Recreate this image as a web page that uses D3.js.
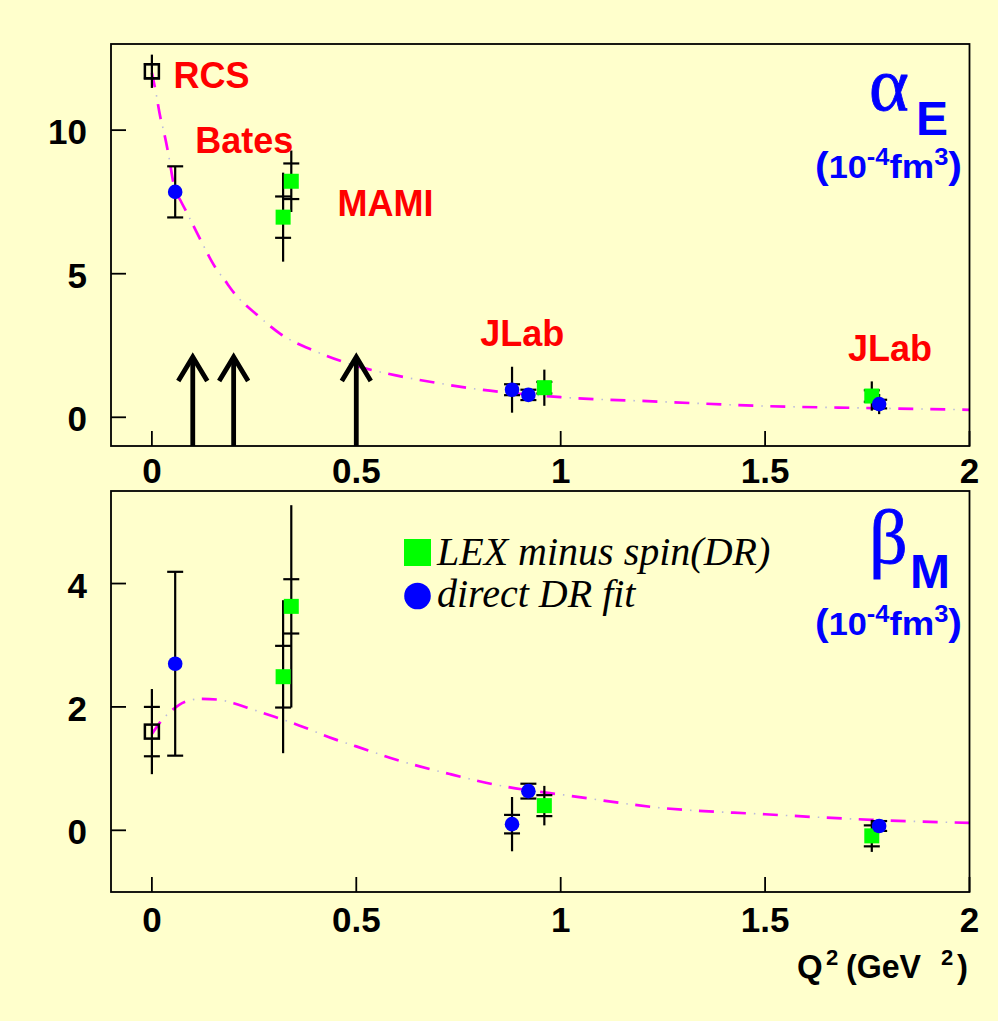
<!DOCTYPE html>
<html>
<head>
<meta charset="utf-8">
<script src="https://cdn.jsdelivr.net/npm/d3@7"></script>
<style>
  html, body { margin: 0; padding: 0; background: #ffffcc; }
  svg { display: block; }
</style>
</head>
<body>
<svg id="chart" width="998" height="1021"></svg>
<script>
// ---- axis ticks ----
const q2Ticks = [0, 0.5, 1, 1.5, 2];
const q2TickLabels = ["0", "0.5", "1", "1.5", "2"];
const alphaTicks = [0, 5, 10];
const alphaTickLabels = ["0", "5", "10"];
const betaTicks = [0, 2, 4];
const betaTickLabels = ["0", "2", "4"];

// ---- alpha_E (10^-4 fm^3) ----
// real Compton scattering point
const alphaRcsQ2 = [0];
const alphaRcsVal = [12.05];
const alphaRcsStat = [0.25];
const alphaRcsTot = [0.58];
// LEX minus spin(DR)
const alphaLexQ2 = [0.321, 0.341, 0.96, 1.761];
const alphaLexVal = [6.97, 8.22, 1.03, 0.74];
const alphaLexStat = [0.72, 0.62, 0.2, 0.2];
const alphaLexTot = [1.55, 1.07, 0.63, 0.51];
// direct DR fit
const alphaDrQ2 = [0.057, 0.881, 0.921, 1.779];
const alphaDrVal = [7.85, 0.96, 0.78, 0.46];
const alphaDrStat = [0.89, 0.19, 0.18, 0.15];
const alphaDrTot = [0.89, 0.80, 0.18, 0.35];
// dispersion-relation curve
const alphaCurveQ2 = [0, 0.01, 0.02, 0.03, 0.04, 0.056, 0.07, 0.09, 0.12, 0.156, 0.177, 0.2, 0.258, 0.315, 0.4, 0.5, 0.6, 0.7, 0.8, 0.9, 1.0, 1.25, 1.5, 1.76, 2.0];
const alphaCurveVal = [12.0, 11.3, 10.5, 9.9, 9.2, 7.95, 7.55, 7.0, 6.15, 5.2, 4.8, 4.35, 3.56, 2.9, 2.3, 1.79, 1.45, 1.19, 0.97, 0.82, 0.70, 0.54, 0.39, 0.32, 0.26];
// kinematic points marked by arrows
const arrowQ2 = [0.1, 0.2, 0.5];
const arrowTip = [2.1, 2.1, 2.1];
// experiment labels
const alphaLabels = ["RCS", "Bates", "MAMI", "JLab", "JLab"];

// ---- beta_M (10^-4 fm^3) ----
const betaRcsQ2 = [0];
const betaRcsVal = [1.60];
const betaRcsStat = [0.40];
const betaRcsTot = [0.69];
const betaLexQ2 = [0.321, 0.341, 0.96, 1.761];
const betaLexVal = [2.49, 3.63, 0.40, -0.09];
const betaLexStat = [0.50, 0.44, 0.17, 0.17];
const betaLexTot = [1.24, 1.64, 0.32, 0.26];
const betaDrQ2 = [0.057, 0.881, 0.921, 1.779];
const betaDrVal = [2.70, 0.10, 0.635, 0.07];
const betaDrStat = [1.49, 0.15, 0.12, 0.08];
const betaDrTot = [1.49, 0.44, 0.12, 0.08];
const betaCurveQ2 = [0, 0.02, 0.05, 0.08, 0.12, 0.16, 0.2, 0.25, 0.3, 0.36, 0.45, 0.5, 0.6, 0.73, 0.84, 0.92, 1.0, 1.25, 1.5, 1.76, 2.0];
const betaCurveVal = [1.56, 1.75, 1.95, 2.08, 2.13, 2.12, 2.06, 1.95, 1.84, 1.70, 1.47, 1.36, 1.14, 0.91, 0.74, 0.65, 0.58, 0.36, 0.26, 0.17, 0.12];

const legendLabels = ["LEX minus spin(DR)", "direct DR fit"];

// ---- drawing ----
const svg = d3.select("#chart");
const SANS = "'Liberation Sans', Arial, Helvetica, sans-serif";
const SERIF = "'Liberation Serif', 'Times New Roman', serif";
const GREEN = "#00ff00", BLUE = "#0000ff", MAGENTA = "#ff00ff", RED = "#ff0000";

svg.append("rect").attr("width", 998).attr("height", 1021).attr("fill", "#ffffcc");

const frameLeft = 111, frameRight = 969.5;
const x = d3.scaleLinear().domain([-0.1, 2]).range([frameLeft, frameRight]);

function zip(q, v, s, t) { return q.map((d, i) => ({ q: d, v: v[i], s: s[i], t: t[i] })); }

function drawPanel(cfg) {
  const y = d3.scaleLinear().domain(cfg.yDomain).range([cfg.bottom, cfg.top]);
  const g = svg.append("g");

  // theory curve: magenta dashes with faint dots in the gaps
  const line = d3.line().x(d => x(d[0])).y(d => y(d[1])).curve(d3.curveMonotoneX);
  const pts = cfg.curveQ2.map((q, i) => [q, cfg.curveVal[i]]);
  g.append("path").attr("d", line(pts)).attr("fill", "none")
    .attr("stroke", "#b9b9dd").attr("stroke-width", 1.6)
    .attr("stroke-dasharray", "1.5,30.5").attr("stroke-dashoffset", 9);
  g.append("path").attr("d", line(pts)).attr("fill", "none")
    .attr("stroke", MAGENTA).attr("stroke-width", 2.7)
    .attr("stroke-dasharray", "15,17");

  // error bars: line spans total error, crossbars mark statistical error
  const bars = [].concat(cfg.rcs, cfg.lex, cfg.dr);
  bars.forEach(d => {
    const cx = x(d.q);
    g.append("line").attr("x1", cx).attr("x2", cx)
      .attr("y1", y(d.v - d.t)).attr("y2", y(d.v + d.t))
      .attr("stroke", "#000").attr("stroke-width", 2.2);
    [d.v - d.s, d.v + d.s].forEach(e => {
      g.append("line").attr("x1", cx - 8).attr("x2", cx + 8)
        .attr("y1", y(e)).attr("y2", y(e))
        .attr("stroke", "#000").attr("stroke-width", 2.2);
    });
  });

  // markers
  cfg.rcs.forEach(d => {
    g.append("rect").attr("x", x(d.q) - 7).attr("y", y(d.v) - 7)
      .attr("width", 14).attr("height", 14)
      .attr("fill", "none").attr("stroke", "#000").attr("stroke-width", 2.5);
  });
  cfg.lex.forEach(d => {
    g.append("rect").attr("x", x(d.q) - 7.5).attr("y", y(d.v) - 7.5)
      .attr("width", 15).attr("height", 15).attr("fill", GREEN);
  });
  cfg.dr.forEach(d => {
    g.append("circle").attr("cx", x(d.q)).attr("cy", y(d.v)).attr("r", 7.3).attr("fill", BLUE);
  });

  // frame
  g.append("rect").attr("x", frameLeft).attr("y", cfg.top)
    .attr("width", frameRight - frameLeft).attr("height", cfg.bottom - cfg.top)
    .attr("fill", "none").attr("stroke", "#000").attr("stroke-width", 1.8);

  // ticks
  cfg.yTicks.forEach((t, i) => {
    g.append("line").attr("x1", frameLeft).attr("x2", frameLeft + 15)
      .attr("y1", y(t)).attr("y2", y(t)).attr("stroke", "#000").attr("stroke-width", 1.8);
    g.append("text").attr("x", 87).attr("y", y(t) + 14)
      .attr("text-anchor", "end").attr("font-family", SANS).attr("font-weight", "bold")
      .attr("font-size", 35).text(cfg.yTickLabels[i]);
  });
  q2Ticks.forEach((t, i) => {
    g.append("line").attr("x1", x(t)).attr("x2", x(t))
      .attr("y1", cfg.bottom).attr("y2", cfg.bottom - 15).attr("stroke", "#000").attr("stroke-width", 1.8);
    g.append("text").attr("x", x(t)).attr("y", cfg.xLabelBase)
      .attr("text-anchor", "middle").attr("font-family", SANS).attr("font-weight", "bold")
      .attr("font-size", 35).text(q2TickLabels[i]);
  });

  // quantity label, e.g. alpha_E (10^-4 fm^3)
  g.append("text").attr("x", 869).attr("y", cfg.greekBase)
    .attr("font-family", SERIF).attr("font-size", 76).attr("fill", BLUE)
    .attr("stroke", BLUE).attr("stroke-width", 0.8).text(cfg.greek);
  g.append("text").attr("x", cfg.subX).attr("y", cfg.greekBase + 25)
    .attr("font-family", SANS).attr("font-weight", "bold").attr("font-size", 48)
    .attr("fill", BLUE).text(cfg.sub);
  const u = g.append("text").attr("x", 815).attr("y", cfg.unitBase)
    .attr("font-family", SANS).attr("font-weight", "bold").attr("fill", BLUE)
    .attr("textLength", 147).attr("lengthAdjust", "spacingAndGlyphs");
  u.append("tspan").attr("font-size", 37).text("(");
  u.append("tspan").attr("font-size", 31).text("10");
  u.append("tspan").attr("font-size", 23).attr("dy", -13).text("-4");
  u.append("tspan").attr("font-size", 33).attr("dy", 13).text("fm");
  u.append("tspan").attr("font-size", 23).attr("dy", -13).text("3");
  u.append("tspan").attr("font-size", 37).attr("dy", 13).text(")");

  return { g, y };
}

// upper panel: alpha_E
const alphaPanel = drawPanel({
  top: 44, bottom: 446, yDomain: [-1, 13], xLabelBase: 483,
  yTicks: alphaTicks, yTickLabels: alphaTickLabels,
  curveQ2: alphaCurveQ2, curveVal: alphaCurveVal,
  rcs: zip(alphaRcsQ2, alphaRcsVal, alphaRcsStat, alphaRcsTot),
  lex: zip(alphaLexQ2, alphaLexVal, alphaLexStat, alphaLexTot),
  dr: zip(alphaDrQ2, alphaDrVal, alphaDrStat, alphaDrTot),
  greek: "\u03b1", sub: "E", subX: 916, greekBase: 110, unitBase: 178
});

// arrows at the kinematic points of the planned measurements
arrowQ2.forEach((q, i) => {
  const ax = x(q), tip = alphaPanel.y(arrowTip[i]);
  alphaPanel.g.append("line").attr("x1", ax).attr("x2", ax).attr("y1", 446).attr("y2", tip + 2)
    .attr("stroke", "#000").attr("stroke-width", 4.8);
  alphaPanel.g.append("path")
    .attr("d", `M${ax - 14.5},${tip + 24}L${ax},${tip}L${ax + 14.5},${tip + 24}`)
    .attr("fill", "none").attr("stroke", "#000").attr("stroke-width", 4.8)
    .attr("stroke-linejoin", "miter");
});

// experiment labels, anchored in data coordinates
const labelPos = [[0.053, 11.47], [0.106, 9.2], [0.454, 7.0], [0.803, 2.5], [1.703, 1.97]];
alphaLabels.forEach((t, i) => {
  alphaPanel.g.append("text").attr("x", x(labelPos[i][0])).attr("y", alphaPanel.y(labelPos[i][1]))
    .attr("font-family", SANS).attr("font-weight", "bold").attr("font-size", 36)
    .attr("fill", RED).text(t);
});

// lower panel: beta_M
const betaPanel = drawPanel({
  top: 491, bottom: 892, yDomain: [-1, 5.5], xLabelBase: 932,
  yTicks: betaTicks, yTickLabels: betaTickLabels,
  curveQ2: betaCurveQ2, curveVal: betaCurveVal,
  rcs: zip(betaRcsQ2, betaRcsVal, betaRcsStat, betaRcsTot),
  lex: zip(betaLexQ2, betaLexVal, betaLexStat, betaLexTot),
  dr: zip(betaDrQ2, betaDrVal, betaDrStat, betaDrTot),
  greek: "\u03b2", sub: "M", subX: 910, greekBase: 563, unitBase: 635
});

// legend
const lg = betaPanel.g.append("g");
lg.append("rect").attr("x", 404).attr("y", 539).attr("width", 27).attr("height", 27).attr("fill", GREEN);
lg.append("circle").attr("cx", 417.5).attr("cy", 596).attr("r", 13.3).attr("fill", BLUE);
legendLabels.forEach((t, i) => {
  lg.append("text").attr("x", 437).attr("y", i === 0 ? 564.5 : 607)
    .attr("font-family", SERIF).attr("font-style", "italic").attr("font-size", 40)
    .attr("fill", "#000").text(t);
});

// x-axis title Q^2 (GeV^2)
const xt = svg.append("g").attr("font-family", SANS).attr("font-weight", "bold").attr("fill", "#000");
xt.append("text").attr("x", 797).attr("y", 978).attr("font-size", 33).text("Q");
xt.append("text").attr("x", 826).attr("y", 965).attr("font-size", 22).text("2");
xt.append("text").attr("x", 846).attr("y", 978).attr("font-size", 33)
  .attr("textLength", 75).attr("lengthAdjust", "spacingAndGlyphs").text("(GeV");
xt.append("text").attr("x", 941).attr("y", 965).attr("font-size", 22).text("2");
xt.append("text").attr("x", 957).attr("y", 978).attr("font-size", 33).text(")");
</script>
</body>
</html>
